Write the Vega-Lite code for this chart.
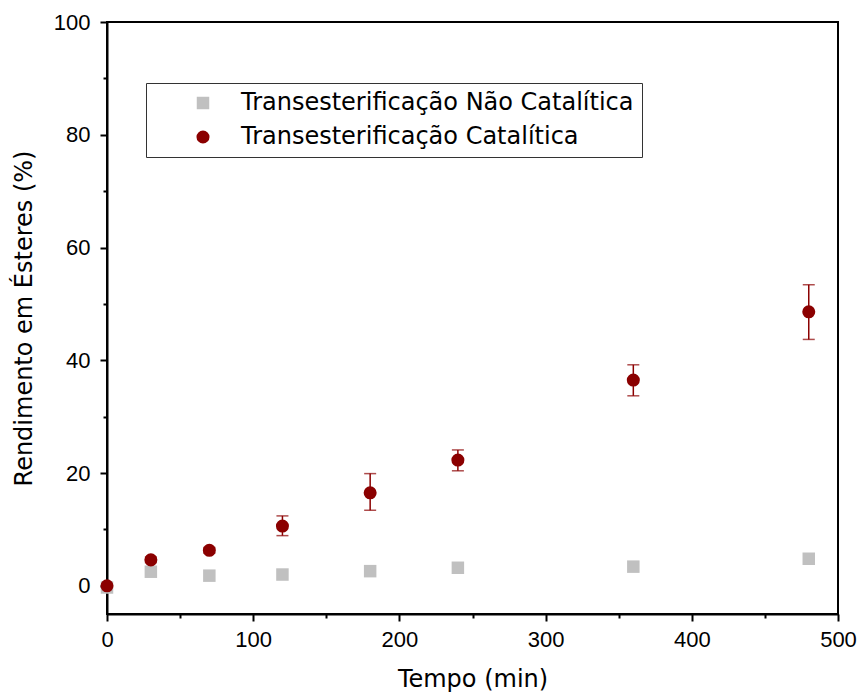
{
  "$schema": "https://vega.github.io/schema/vega-lite/v6.json",
  "autosize": {"type": "none"},
  "padding": {"left": 107, "top": 22, "right": 20, "bottom": 83},
  "width": 731,
  "height": 592,
  "background": "white",
  "config": {
    "view": {"stroke": "black", "strokeWidth": 2},
    "axis": {"grid": false, "labelFont": "Liberation Sans", "labelFontSize": 22, "labelColor": "#000", "titleFont": "DejaVu Sans", "titleFontSize": 24, "titleFontWeight": "normal", "titleColor": "#000", "domainColor": "#000", "domainWidth": 2, "tickColor": "#000", "tickWidth": 2}
  },
  "data": {
    "values": [
      {"t": 0, "y": -0.3, "series": "Transesterificação Não Catalítica"},
      {"t": 30, "y": 2.5, "series": "Transesterificação Não Catalítica"},
      {"t": 70, "y": 1.8, "series": "Transesterificação Não Catalítica"},
      {"t": 120, "y": 2.0, "series": "Transesterificação Não Catalítica"},
      {"t": 180, "y": 2.6, "series": "Transesterificação Não Catalítica"},
      {"t": 240, "y": 3.2, "series": "Transesterificação Não Catalítica"},
      {"t": 360, "y": 3.4, "series": "Transesterificação Não Catalítica"},
      {"t": 480, "y": 4.8, "series": "Transesterificação Não Catalítica"},
      {"t": 0, "y": 0.0, "lo": -0.3, "hi": 0.3, "series": "Transesterificação Catalítica"},
      {"t": 30, "y": 4.6, "lo": 4.1, "hi": 5.1, "series": "Transesterificação Catalítica"},
      {"t": 70, "y": 6.3, "lo": 5.8, "hi": 6.8, "series": "Transesterificação Catalítica"},
      {"t": 120, "y": 10.6, "lo": 8.9, "hi": 12.4, "series": "Transesterificação Catalítica"},
      {"t": 180, "y": 16.5, "lo": 13.4, "hi": 19.9, "series": "Transesterificação Catalítica"},
      {"t": 240, "y": 22.3, "lo": 20.4, "hi": 24.1, "series": "Transesterificação Catalítica"},
      {"t": 360, "y": 36.5, "lo": 33.7, "hi": 39.2, "series": "Transesterificação Catalítica"},
      {"t": 480, "y": 48.6, "lo": 43.7, "hi": 53.4, "series": "Transesterificação Catalítica"}
    ]
  },
  "layer": [
    {
      "transform": [{"filter": "isValid(datum.lo)"}],
      "mark": {"type": "errorbar", "color": "#8B0000", "thickness": 1.5, "ticks": {"size": 12, "thickness": 1.5, "color": "#8B0000"}},
      "encoding": {
        "x": {"field": "t", "type": "quantitative", "scale": {"domain": [0, 500], "nice": false}, "axis": null},
        "y": {"field": "lo", "type": "quantitative", "scale": {"domain": [-5, 100], "nice": false}, "axis": null},
        "y2": {"field": "hi"}
      }
    },
    {
      "mark": {"type": "point", "filled": true, "opacity": 1},
      "encoding": {
        "x": {"field": "t", "type": "quantitative", "title": "Tempo (min)", "scale": {"domain": [0, 500], "nice": false},
          "axis": {"orient": "bottom", "values": [0, 100, 200, 300, 400, 500], "tickSize": 7, "labelPadding": 8, "titlePadding": 17, "labelFlush": false}},
        "y": {"field": "y", "type": "quantitative", "title": "Rendimento em Ésteres (%)", "scale": {"domain": [-5, 100], "nice": false},
          "axis": {"orient": "left", "values": [0, 20, 40, 60, 80, 100], "tickSize": 7, "labelPadding": 10, "titlePadding": 17}},
        "color": {"field": "series", "type": "nominal", "scale": {"domain": ["Transesterificação Não Catalítica", "Transesterificação Catalítica"], "range": ["#C0C0C0", "#8B0000"]},
          "legend": {"title": null, "orient": "none", "legendX": 39, "legendY": 61, "padding": 8, "strokeColor": "#333", "fillColor": "white", "symbolOffset": 37, "labelOffset": 26, "rowPadding": 10, "labelFont": "DejaVu Sans", "labelFontSize": 24, "labelColor": "#000", "labelLimit": 600, "symbolSize": 130, "symbolStrokeWidth": 0}},
        "shape": {"field": "series", "type": "nominal", "scale": {"domain": ["Transesterificação Não Catalítica", "Transesterificação Catalítica"], "range": ["square", "circle"]}},
        "size": {"field": "series", "type": "nominal", "scale": {"domain": ["Transesterificação Não Catalítica", "Transesterificação Catalítica"], "range": [156, 170]}, "legend": null}
      }
    },
    {
      "mark": {"type": "point", "opacity": 0},
      "encoding": {
        "x": {"field": "t", "type": "quantitative", "scale": {"domain": [0, 500], "nice": false},
          "axis": {"orient": "bottom", "values": [50, 150, 250, 350, 450], "tickSize": 4, "labels": false, "title": null, "domain": false}},
        "y": {"field": "y", "type": "quantitative", "scale": {"domain": [-5, 100], "nice": false},
          "axis": {"orient": "left", "values": [10, 30, 50, 70, 90], "tickSize": 4, "labels": false, "title": null, "domain": false}}
      }
    }
  ],
  "resolve": {"axis": {"x": "independent", "y": "independent"}}
}
